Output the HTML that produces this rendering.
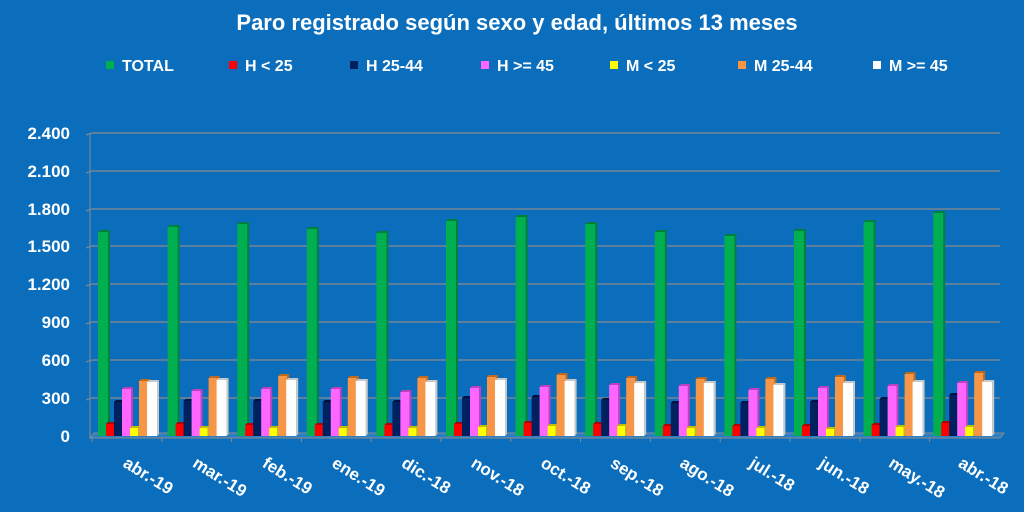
<!DOCTYPE html>
<html><head><meta charset="utf-8"><style>
html,body{margin:0;padding:0;background:#0a6ebd;}
svg{display:block;font-family:"Liberation Sans",sans-serif;font-weight:bold;fill:#fff;}
</style></head><body>
<svg id="c" width="1024" height="512" xmlns="http://www.w3.org/2000/svg">
<rect width="1024" height="512" fill="#0a6ebd"/>
<text x="517" y="30" text-anchor="middle" font-size="22">Paro registrado según sexo y edad, últimos 13 meses</text>
<g font-size="16">
<rect x="106" y="61" width="8" height="8" fill="#00b050"/><text x="122" y="71">TOTAL</text>
<rect x="229" y="61" width="8" height="8" fill="#ff0000"/><text x="245" y="71">H &lt; 25</text>
<rect x="350" y="61" width="8" height="8" fill="#002060"/><text x="366" y="71">H 25-44</text>
<rect x="481" y="61" width="8" height="8" fill="#ff66ff"/><text x="497" y="71">H &gt;= 45</text>
<rect x="610" y="61" width="8" height="8" fill="#ffff00"/><text x="626" y="71">M &lt; 25</text>
<rect x="738" y="61" width="8" height="8" fill="#f79646"/><text x="754" y="71">M 25-44</text>
<rect x="873" y="61" width="8" height="8" fill="#ffffff"/><text x="889" y="71">M &gt;= 45</text>
</g>
<g id="g"></g>
</svg>
<script>
var g=document.getElementById('g'),h='';
var ys=[436,398,360,322,284,246,209,171,133],lab=['0','300','600','900','1.200','1.500','1.800','2.100','2.400'];
for(var i=0;i<ys.length;i++){
 if(i>0){h+='<line x1="86" y1="'+(ys[i]+2)+'" x2="92" y2="'+ys[i]+'" stroke="#8c8c8c"/><line x1="92" y1="'+ys[i]+'" x2="1000" y2="'+ys[i]+'" stroke="#8c8c8c" stroke-width="1.2"/>';}
 h+='<text x="70" y="'+(ys[i]+6)+'" text-anchor="end" font-size="17">'+lab[i]+'</text>';
}
h+='<line x1="90" y1="133" x2="90" y2="438" stroke="#8c8c8c"/>';
h+='<polygon points="90,438 1000,438 1004,433 94,433" fill="#2a7fc4" stroke="#8c8c8c" stroke-width="1"/>';
var cols=['#00b050','#ff0000','#002060','#ff66ff','#ffff00','#f79646','#ffffff'];
var dark=['#00803a','#b00000','#001040','#c040c0','#c0c000','#c06a20','#c8c8c8'];
var T=[232,227,224,229,233,221,217,224,232,236,231,222,213];
var R=[424,424,425,425,425,424,423,424,426,426,426,425,423];
var N=[402,401,401,402,402,398,397,400,403,403,402,399,395];
var P=[389,391,389,389,392,388,387,385,386,390,388,386,383];
var Y=[428,428,428,428,428,427,426,426,428,428,429,427,427];
var O=[381,378,376,378,378,377,375,378,379,379,377,374,373];
var W=[382,380,380,381,382,380,381,383,383,385,383,382,382];
var names=['abr.-19','mar.-19','feb.-19','ene.-19','dic.-18','nov.-18','oct.-18','sep.-18','ago.-18','jul.-18','jun.-18','may.-18','abr.-18'];
var offs=[0,8,16,24,32,41,49],wd=[10,8,8,9,8,9,10];
for(var k=0;k<13;k++){
 var x0=98+k*69.6,tops=[T[k],R[k],N[k],P[k],Y[k],O[k],W[k]];
 for(var s=0;s<7;s++){
  var x=x0+offs[s],t=tops[s],w=wd[s];
  h+='<polygon points="'+(x+w)+','+t+' '+(x+w+2)+','+(t-2)+' '+(x+w+2)+',434 '+(x+w)+',436" fill="'+dark[s]+'"/>';
  h+='<polygon points="'+x+','+t+' '+(x+2)+','+(t-2)+' '+(x+w+2)+','+(t-2)+' '+(x+w)+','+t+'" fill="'+dark[s]+'"/>';
  h+='<rect x="'+x+'" y="'+t+'" width="'+w+'" height="'+(436-t)+'" fill="'+cols[s]+'"/>';
 }
 h+='<line x1="'+(92+k*69.8)+'" y1="438" x2="'+(92+k*69.8)+'" y2="442" stroke="#8c8c8c"/>';
 h+='<text transform="translate('+(x0+24)+',466) rotate(32)" font-size="17">'+names[k]+'</text>';
}
g.innerHTML=h;
</script>
</body></html>
